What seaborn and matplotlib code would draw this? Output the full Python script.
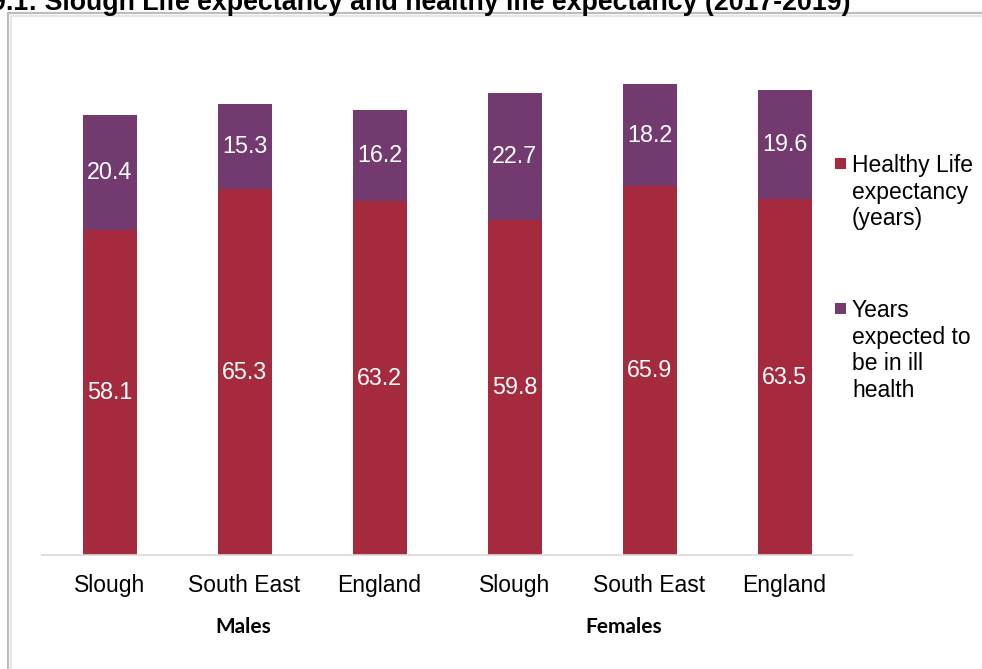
import matplotlib
matplotlib.use("Agg")
import matplotlib.pyplot as plt
from matplotlib.lines import Line2D
from matplotlib.patches import Rectangle
import pandas as pd
import seaborn as sns

# Life expectancy split, 2017-2019
groups = ["Males", "Males", "Males", "Females", "Females", "Females"]
places = ["Slough", "South East", "England", "Slough", "South East", "England"]
healthy_years = [58.1, 65.3, 63.2, 59.8, 65.9, 63.5]
ill_health_years = [20.4, 15.3, 16.2, 22.7, 18.2, 19.6]
series_names = ["Healthy Life\nexpectancy\n(years)", "Years\nexpected to\nbe in ill\nhealth"]
title = "9.1: Slough Life expectancy and healthy life expectancy (2017-2019)"

RED = "#A52A3E"
PURPLE = "#733A6F"

df = pd.DataFrame({
    "key": [f"{g} {p}" for g, p in zip(groups, places)],
    "healthy": healthy_years,
    "ill": ill_health_years,
})
order = list(df["key"])

sns.set_theme(style="white")
plt.rcParams["font.family"] = ["Liberation Sans", "DejaVu Sans"]

W, H = 982, 669
fig = plt.figure(figsize=(W / 100, H / 100), dpi=100)
ax = fig.add_axes([42 / W, 114 / H, 810 / W, 504 / H])

sns.barplot(data=df, x="key", y="healthy", order=order, color=RED,
            saturation=1, width=0.4, linewidth=0, ax=ax)
sns.barplot(data=df, x="key", y="ill", order=order, color=PURPLE,
            saturation=1, width=0.4, linewidth=0, bottom=df["healthy"].values, ax=ax)

for cont in ax.containers:
    ax.bar_label(cont, fmt="%.1f", label_type="center", color="white", fontsize=16.8)

ax.set_ylim(0, 90)
ax.set_xlim(-0.5, 5.5)
ax.set_xlabel("")
ax.set_ylabel("")
ax.set_yticks([])
ax.set_xticks(range(len(places)))
ax.set_xticklabels(places, fontsize=16.5, color="black")
ax.tick_params(axis="x", length=0, pad=13.5)
for side in ["left", "right", "top"]:
    ax.spines[side].set_visible(False)
ax.spines["bottom"].set_color("#d9d9d9")
ax.spines["bottom"].set_linewidth(1.2)

# Group captions under the categories
fig.text(243 / W, 1 - 627 / H, "Males", ha="center", va="center",
         fontsize=15, fontweight="bold", family=["Lato", "DejaVu Sans"], color="black")
fig.text(624 / W, 1 - 627 / H, "Females", ha="center", va="center",
         fontsize=15, fontweight="bold", family=["Lato", "DejaVu Sans"], color="black")

# Legend entries, swatch beside the first line of each label
legend_rows = [(RED, series_names[0], 172), (PURPLE, series_names[1], 317)]
for col, label, base in legend_rows:
    fig.add_artist(Rectangle((835 / W, 1 - (base - 3) / H), 11 / W, 11 / H,
                             transform=fig.transFigure, facecolor=col, edgecolor="none"))
    for i, line in enumerate(label.split("\n")):
        fig.text(852 / W, 1 - (base + i * 26.7) / H, line, ha="left", va="baseline",
                 fontsize=16.5, color="black")

# Title, partly above the canvas edge
fig.text(-9 / W, 1 - 10 / H, title, ha="left", va="baseline",
         fontsize=19.3, fontweight="bold", color="black")

# Chart frame
fig.add_artist(Line2D([8 / W, 1], [1 - 13 / H, 1 - 13 / H], transform=fig.transFigure,
                      color="#bdbdbd", lw=1.6))
fig.add_artist(Line2D([11 / W, 1], [1 - 15.5 / H, 1 - 15.5 / H], transform=fig.transFigure,
                      color="#e6e6e6", lw=1.4))
fig.add_artist(Line2D([8 / W, 8 / W], [0, 1 - 13 / H], transform=fig.transFigure,
                      color="#bdbdbd", lw=1.6))
fig.add_artist(Line2D([11 / W, 11 / W], [0, 1 - 15.5 / H], transform=fig.transFigure,
                      color="#e6e6e6", lw=1.4))

fig.savefig("out.png", dpi=100)
